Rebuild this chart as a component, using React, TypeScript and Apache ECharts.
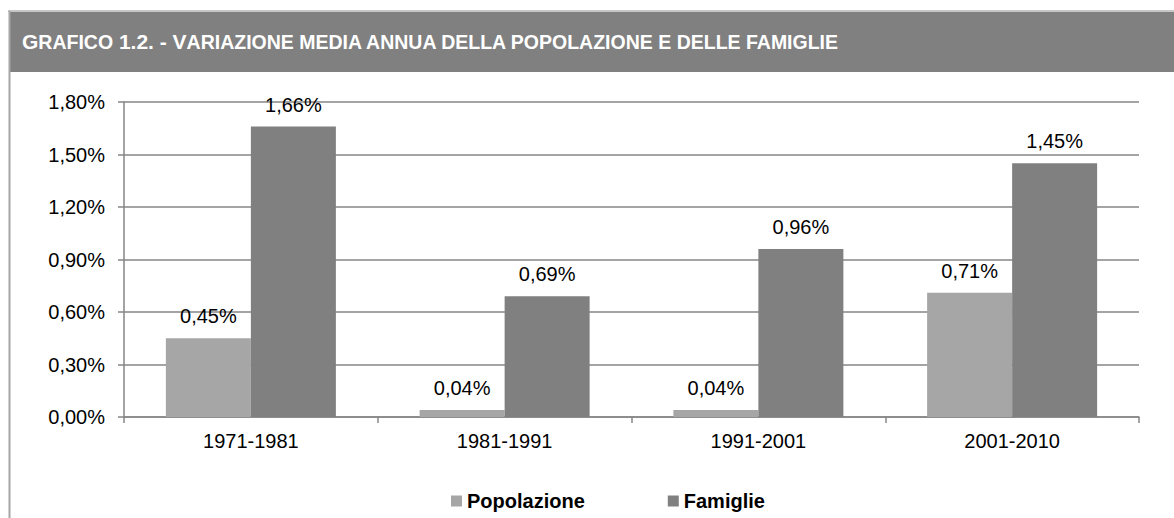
import React, { useEffect, useRef } from "react";
import * as echarts from "echarts";

const categories = ["1971-1981", "1981-1991", "1991-2001", "2001-2010"];
const popolazione = [0.45, 0.04, 0.04, 0.71];
const famiglie = [1.66, 0.69, 0.96, 1.45];
const seriesNames = ["Popolazione", "Famiglie"];

const FONT = "'Liberation Sans', Arial, sans-serif";
const fmt = (v: number) => v.toFixed(2).replace(".", ",") + "%";

export default function App() {
  const ref = useRef<HTMLDivElement>(null);
  useEffect(() => {
    document.body.style.margin = "0";
    const chart = echarts.init(ref.current!, null, { renderer: "svg" });
    const labelStyle = {
      show: true,
      position: "top" as const,
      distance: 12,
      fontSize: 20,
      fontFamily: FONT,
      color: "#000",
      formatter: (p: any) => fmt(p.value),
    };
    chart.setOption({
      animation: false,
      backgroundColor: "#fff",
      textStyle: { fontFamily: FONT },
      title: {
        left: 22,
        top: 31,
        padding: 0,
        text: "{a|G}{b|RAFICO}{a| 1.2. - V}{b|ARIAZIONE MEDIA ANNUA DELLA POPOLAZIONE E DELLE FAMIGLIE}",
        textStyle: {
          rich: {
            a: { fontSize: 21, fontWeight: "bold", color: "#fff", fontFamily: FONT },
            b: { fontSize: 19.5, fontWeight: "bold", color: "#fff", fontFamily: FONT },
          },
        },
      },
      grid: { left: 124, right: 35, top: 102, bottom: 101, containLabel: false },
      legend: {
        left: 446,
        top: 486,
        itemWidth: 11,
        itemHeight: 11,
        itemGap: 83,
        icon: "rect",
        textStyle: { fontSize: 20, fontWeight: "bold", color: "#000", fontFamily: FONT },
        data: seriesNames,
      },
      xAxis: {
        type: "category",
        data: categories,
        axisLine: { lineStyle: { color: "#868686", width: 1.5 } },
        axisTick: { show: true, length: 6, lineStyle: { color: "#868686", width: 1.5 } },
        axisLabel: { fontSize: 20, color: "#000", margin: 14, fontFamily: FONT },
      },
      yAxis: {
        type: "value",
        min: 0,
        max: 1.8,
        interval: 0.3,
        axisLine: { show: true, lineStyle: { color: "#868686", width: 1.5 } },
        axisTick: { show: true, length: 6, lineStyle: { color: "#868686", width: 1.5 } },
        splitLine: { lineStyle: { color: "#868686", width: 1.5 } },
        axisLabel: { fontSize: 20, color: "#000", margin: 19, fontFamily: FONT, formatter: fmt },
      },
      series: [
        {
          name: seriesNames[0],
          type: "bar",
          data: popolazione,
          itemStyle: { color: "#a6a6a6" },
          barGap: "0%",
          barCategoryGap: "33%",
          label: labelStyle,
        },
        {
          name: seriesNames[1],
          type: "bar",
          data: famiglie,
          itemStyle: { color: "#808080" },
          barGap: "0%",
          barCategoryGap: "33%",
          label: labelStyle,
        },
      ],
      graphic: [
        { type: "rect", z: -10, shape: { x: 9, y: 12, width: 1165, height: 60 }, style: { fill: "#808080" }, silent: true },
        { type: "line", shape: { x1: 8, y1: 11, x2: 1174, y2: 11 }, style: { stroke: "#b4b4b4", lineWidth: 1.5 }, silent: true },
        { type: "line", shape: { x1: 9.5, y1: 11, x2: 9.5, y2: 518 }, style: { stroke: "#a6a6a6", lineWidth: 2 }, silent: true },
      ],
    });
    return () => chart.dispose();
  }, []);
  return <div ref={ref} style={{ width: 1174, height: 518 }} />;
}
